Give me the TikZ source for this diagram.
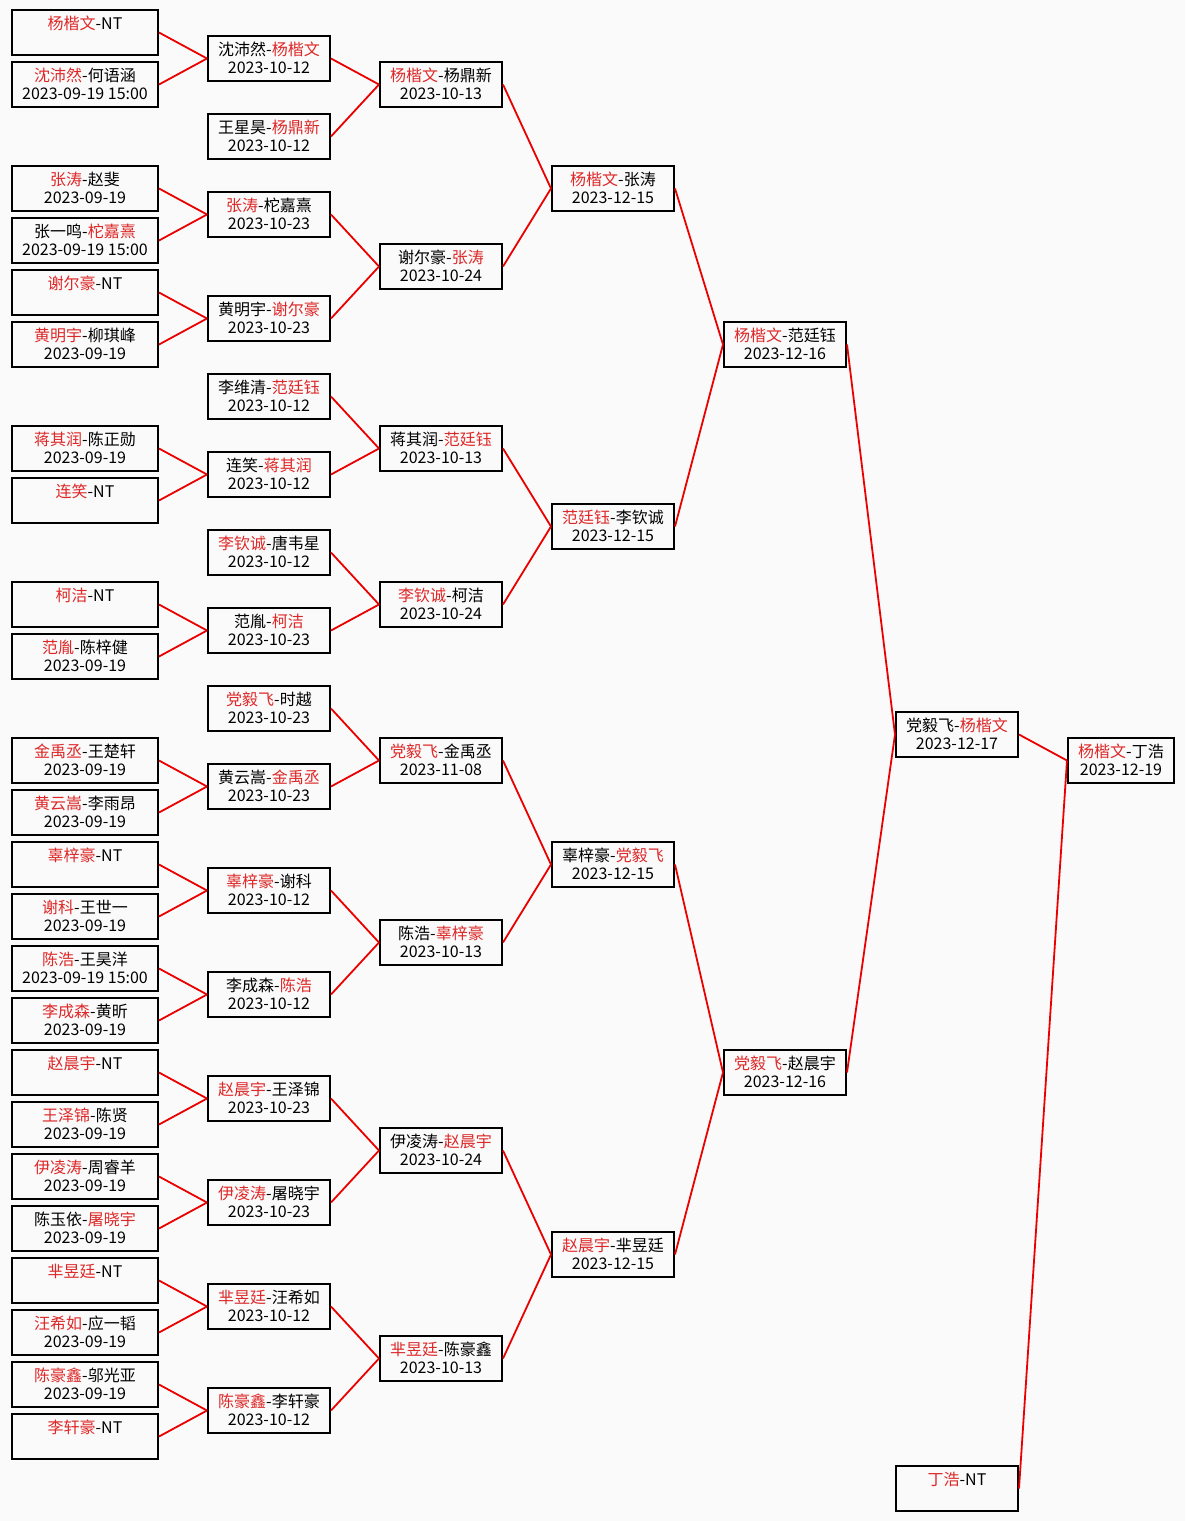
\documentclass[tikz,border=0pt]{standalone}
\usepackage{fontspec}
\setmainfont{Noto Sans CJK SC}
\newfontfamily\cjk{Noto Sans CJK SC}
\definecolor{winred}{RGB}{222,40,40}
\definecolor{linkred}{RGB}{235,0,0}
\definecolor{paper}{RGB}{250,250,250}
\newcommand\winner[1]{\textcolor{winred}{\cjk #1}}
\newcommand\loser[1]{{\cjk #1}}
\newcommand\game[2]{\rule{0pt}{8.6pt}#1\\\strut #2}
\tikzset{
  game box/.style={draw,line width=1pt,inner sep=0pt,minimum height=22.5pt,align=center,font=\fontsize{8}{8.75}\selectfont},
  first box/.style={game box,minimum width=73pt},
  later box/.style={game box,minimum width=61pt},
  final box/.style={game box,minimum width=53pt},
  win link/.style={linkred,line width=0.9pt},
}

\begin{document}
\begin{tikzpicture}[x=0.5pt,y=-13pt]
  \fill[paper] (0,-1.25) rectangle (1185,57.25);
  \useasboundingbox (0,-1.25) rectangle (1185,57.25);
  % round 1
  \node[first box] (a0) at (85,0) {\game{\winner{杨楷文}-NT}{}};
  \node[first box] (a1) at (85,2) {\game{\winner{沈沛然}-\loser{何语涵}}{2023-09-19 15:00}};
  \node[first box] (a3) at (85,6) {\game{\winner{张涛}-\loser{赵斐}}{2023-09-19}};
  \node[first box] (a4) at (85,8) {\game{\loser{张一鸣}-\winner{柁嘉熹}}{2023-09-19 15:00}};
  \node[first box] (a5) at (85,10) {\game{\winner{谢尔豪}-NT}{}};
  \node[first box] (a6) at (85,12) {\game{\winner{黄明宇}-\loser{柳琪峰}}{2023-09-19}};
  \node[first box] (a8) at (85,16) {\game{\winner{蒋其润}-\loser{陈正勋}}{2023-09-19}};
  \node[first box] (a9) at (85,18) {\game{\winner{连笑}-NT}{}};
  \node[first box] (a11) at (85,22) {\game{\winner{柯洁}-NT}{}};
  \node[first box] (a12) at (85,24) {\game{\winner{范胤}-\loser{陈梓健}}{2023-09-19}};
  \node[first box] (a14) at (85,28) {\game{\winner{金禹丞}-\loser{王楚轩}}{2023-09-19}};
  \node[first box] (a15) at (85,30) {\game{\winner{黄云嵩}-\loser{李雨昂}}{2023-09-19}};
  \node[first box] (a16) at (85,32) {\game{\winner{辜梓豪}-NT}{}};
  \node[first box] (a17) at (85,34) {\game{\winner{谢科}-\loser{王世一}}{2023-09-19}};
  \node[first box] (a18) at (85,36) {\game{\winner{陈浩}-\loser{王昊洋}}{2023-09-19 15:00}};
  \node[first box] (a19) at (85,38) {\game{\winner{李成森}-\loser{黄昕}}{2023-09-19}};
  \node[first box] (a20) at (85,40) {\game{\winner{赵晨宇}-NT}{}};
  \node[first box] (a21) at (85,42) {\game{\winner{王泽锦}-\loser{陈贤}}{2023-09-19}};
  \node[first box] (a22) at (85,44) {\game{\winner{伊凌涛}-\loser{周睿羊}}{2023-09-19}};
  \node[first box] (a23) at (85,46) {\game{\loser{陈玉依}-\winner{屠晓宇}}{2023-09-19}};
  \node[first box] (a24) at (85,48) {\game{\winner{芈昱廷}-NT}{}};
  \node[first box] (a25) at (85,50) {\game{\winner{汪希如}-\loser{应一韬}}{2023-09-19}};
  \node[first box] (a26) at (85,52) {\game{\winner{陈豪鑫}-\loser{邬光亚}}{2023-09-19}};
  \node[first box] (a27) at (85,54) {\game{\winner{李轩豪}-NT}{}};
  % round 2
  \node[later box] (b0) at (269,1) {\game{\loser{沈沛然}-\winner{杨楷文}}{2023-10-12}};
  \node[later box] (b1) at (269,4) {\game{\loser{王星昊}-\winner{杨鼎新}}{2023-10-12}};
  \node[later box] (b2) at (269,7) {\game{\winner{张涛}-\loser{柁嘉熹}}{2023-10-23}};
  \node[later box] (b3) at (269,11) {\game{\loser{黄明宇}-\winner{谢尔豪}}{2023-10-23}};
  \node[later box] (b4) at (269,14) {\game{\loser{李维清}-\winner{范廷钰}}{2023-10-12}};
  \node[later box] (b5) at (269,17) {\game{\loser{连笑}-\winner{蒋其润}}{2023-10-12}};
  \node[later box] (b6) at (269,20) {\game{\winner{李钦诚}-\loser{唐韦星}}{2023-10-12}};
  \node[later box] (b7) at (269,23) {\game{\loser{范胤}-\winner{柯洁}}{2023-10-23}};
  \node[later box] (b8) at (269,26) {\game{\winner{党毅飞}-\loser{时越}}{2023-10-23}};
  \node[later box] (b9) at (269,29) {\game{\loser{黄云嵩}-\winner{金禹丞}}{2023-10-23}};
  \node[later box] (b10) at (269,33) {\game{\winner{辜梓豪}-\loser{谢科}}{2023-10-12}};
  \node[later box] (b11) at (269,37) {\game{\loser{李成森}-\winner{陈浩}}{2023-10-12}};
  \node[later box] (b12) at (269,41) {\game{\winner{赵晨宇}-\loser{王泽锦}}{2023-10-23}};
  \node[later box] (b13) at (269,45) {\game{\winner{伊凌涛}-\loser{屠晓宇}}{2023-10-23}};
  \node[later box] (b14) at (269,49) {\game{\winner{芈昱廷}-\loser{汪希如}}{2023-10-12}};
  \node[later box] (b15) at (269,53) {\game{\winner{陈豪鑫}-\loser{李轩豪}}{2023-10-12}};
  % round 3
  \node[later box] (c0) at (441,2) {\game{\winner{杨楷文}-\loser{杨鼎新}}{2023-10-13}};
  \node[later box] (c1) at (441,9) {\game{\loser{谢尔豪}-\winner{张涛}}{2023-10-24}};
  \node[later box] (c2) at (441,16) {\game{\loser{蒋其润}-\winner{范廷钰}}{2023-10-13}};
  \node[later box] (c3) at (441,22) {\game{\winner{李钦诚}-\loser{柯洁}}{2023-10-24}};
  \node[later box] (c4) at (441,28) {\game{\winner{党毅飞}-\loser{金禹丞}}{2023-11-08}};
  \node[later box] (c5) at (441,35) {\game{\loser{陈浩}-\winner{辜梓豪}}{2023-10-13}};
  \node[later box] (c6) at (441,43) {\game{\loser{伊凌涛}-\winner{赵晨宇}}{2023-10-24}};
  \node[later box] (c7) at (441,51) {\game{\winner{芈昱廷}-\loser{陈豪鑫}}{2023-10-13}};
  % round 4
  \node[later box] (d0) at (613,6) {\game{\winner{杨楷文}-\loser{张涛}}{2023-12-15}};
  \node[later box] (d1) at (613,19) {\game{\winner{范廷钰}-\loser{李钦诚}}{2023-12-15}};
  \node[later box] (d2) at (613,32) {\game{\loser{辜梓豪}-\winner{党毅飞}}{2023-12-15}};
  \node[later box] (d3) at (613,47) {\game{\winner{赵晨宇}-\loser{芈昱廷}}{2023-12-15}};
  % round 5
  \node[later box] (e0) at (785,12) {\game{\winner{杨楷文}-\loser{范廷钰}}{2023-12-16}};
  \node[later box] (e1) at (785,40) {\game{\winner{党毅飞}-\loser{赵晨宇}}{2023-12-16}};
  % last rounds
  \node[later box] (f0) at (957,27) {\game{\loser{党毅飞}-\winner{杨楷文}}{2023-12-17}};
  \node[later box] (f1) at (957,56) {\game{\winner{丁浩}-NT}{}};
  \node[final box] (g0) at (1121,28) {\game{\winner{杨楷文}-\loser{丁浩}}{2023-12-19}};

  \foreach \u/\v in {a0/b0,a1/b0,a3/b2,a4/b2,a5/b3,a6/b3,a8/b5,a9/b5,a11/b7,a12/b7,
      a14/b9,a15/b9,a16/b10,a17/b10,a18/b11,a19/b11,a20/b12,a21/b12,
      a22/b13,a23/b13,a24/b14,a25/b14,a26/b15,a27/b15,
      b0/c0,b1/c0,b2/c1,b3/c1,b4/c2,b5/c2,b6/c3,b7/c3,
      b8/c4,b9/c4,b10/c5,b11/c5,b12/c6,b13/c6,b14/c7,b15/c7,
      c0/d0,c1/d0,c2/d1,c3/d1,c4/d2,c5/d2,c6/d3,c7/d3,
      d0/e0,d1/e0,d2/e1,d3/e1,e0/f0,e1/f0,f0/g0,f1/g0}{
    \draw[win link] (\u.east) -- (\v.west);
  }
\end{tikzpicture}
\end{document}
